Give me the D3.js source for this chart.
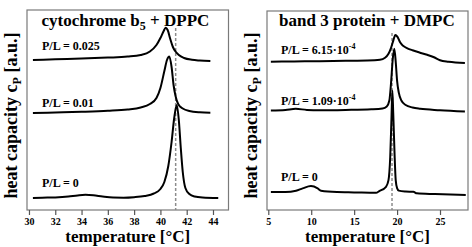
<!DOCTYPE html>
<html>
<head>
<meta charset="utf-8">
<script src="https://cdn.jsdelivr.net/npm/d3@7"></script>
<style>
  body { margin: 0; background: #fff; }
  text { font-family: "Liberation Serif", "Times New Roman", serif; font-weight: bold; fill: #000; }
</style>
</head>
<body>
<div id="chart"></div>
<script>
// ---- data: temperature [°C] and relative heat capacity [a.u.] ----
// cytochrome b5 + DPPC
var dppcT0   = [30.3, 31, 32, 33, 33.7, 34.3, 34.9, 35.6, 36.4, 37.2, 38, 38.8, 39.5, 40, 40.3, 40.6, 40.85, 41.05, 41.24, 41.4, 41.55, 41.7, 41.9, 42.2, 42.6, 43.2, 44.4];
var dppcCp0  = [0, 0.3, 0.6, 1.5, 2.6, 3.2, 2.7, 1.4, 0.4, 0.3, 0.8, 2, 4.5, 9, 16, 32, 56, 80, 93, 78, 50, 26, 10, 4, 1.5, 0.5, 0];
var dppcT1   = [30.3, 32, 34, 36, 37.5, 38.5, 39.2, 39.7, 40, 40.3, 40.5, 40.68, 40.85, 41, 41.15, 41.35, 41.7, 42.2, 43, 43.8];
var dppcCp1  = [0, 0.5, 1.2, 2.2, 3.5, 5.5, 9, 15, 25, 42, 53, 56.5, 46, 28, 17, 9, 4.5, 2, 0.7, 0.3];
var dppcT2   = [30.3, 32, 34, 36, 37.5, 38.5, 39.2, 39.7, 40, 40.25, 40.4, 40.55, 40.75, 40.95, 41.15, 41.4, 41.8, 42.4, 43, 43.8];
var dppcCp2  = [0, 0.7, 1.5, 2.4, 3.4, 5, 8.5, 15, 22, 29, 32.3, 30, 21, 13, 8.5, 5, 2, 0.2, -0.5, -1];
var dppcOffsets = [12, 97, 150];
var dppcLabels  = ['0', '0.01', '0.025'];
var dppcTicks   = [30, 32, 34, 36, 38, 40, 42, 44];
var dppcTm      = 41.16;

// band 3 protein + DMPC
var dmpcT0   = [5.3, 7, 8.23, 9, 9.97, 10.75, 11.14, 13, 15, 17.55, 17.93, 18.71, 19, 19.2, 19.35, 19.45, 19.55, 19.7, 19.84, 20, 20.2, 21, 21.9, 22.3, 24.4, 28];
var dmpcCp0  = [0, 0, 1.3, 3.7, 6, 3.7, 1.3, 0, -0.3, -0.7, 1, 5.3, 12, 35, 75, 102, 80, 40, 12, 4, 1.5, 0.6, 0.3, -1.2, -2, -3];
var dmpcT1   = [5.3, 7, 8.2, 9.5, 11, 14, 17, 18.3, 18.8, 19.1, 19.3, 19.5, 19.68, 19.85, 20, 20.2, 20.5, 21, 21.8, 22.7, 25, 27.9];
var dmpcCp1  = [0, 0.6, 1.7, 0.6, 0.3, 0.6, 1.2, 2, 4, 10, 28, 52, 62, 48, 30, 18, 10, 5.5, 3, 1.7, 0.3, -1];
var dmpcT2   = [5.3, 8, 11, 14, 16.5, 18, 18.6, 19, 19.3, 19.55, 19.8, 20.05, 20.35, 20.7, 21.2, 21.8, 22.6, 23.5, 24.3, 25, 26, 27.9];
var dmpcCp2  = [0, 0.3, 0.6, 1, 1.3, 2, 4, 8, 14, 21, 27, 25, 19.5, 16, 13.5, 11.5, 9.3, 7, 4.5, 1.5, 0, -1.3];
var dmpcOffsets = [18, 100, 149];
var dmpcLabels  = ['0', '1.09·10', '6.15·10'];
var dmpcTicks   = [5, 10, 15, 20, 25];
var dmpcTm      = 19.41;

var W = 472, H = 247;
var svg = d3.select('#chart').append('svg')
  .attr('width', W)
  .attr('height', H);

function drawPanel(p) {
  var x = d3.scaleLinear().domain(p.xDomain).range([p.left, p.right]);
  var y = d3.scaleLinear().domain([0, 200]).range([p.bottom, p.top]);
  var g = svg.append('g');

  // frame
  g.append('rect')
    .attr('x', p.left).attr('y', p.top)
    .attr('width', p.right - p.left).attr('height', p.bottom - p.top)
    .attr('fill', 'none').attr('stroke', '#7a7a7a').attr('stroke-width', 1.2);

  // x axis
  var ax = g.append('g')
    .attr('transform', 'translate(0,' + p.bottom + ')')
    .call(d3.axisBottom(x).tickValues(p.ticks).tickSize(5).tickSizeOuter(0).tickPadding(3));
  ax.select('.domain').remove();
  ax.selectAll('line').attr('stroke', '#555').attr('stroke-width', 1.2);
  ax.selectAll('text')
    .style('font-family', '"Liberation Serif", serif')
    .style('font-weight', 'bold')
    .style('font-size', '10px');

  // transition temperature
  g.append('line')
    .attr('x1', x(p.tm)).attr('x2', x(p.tm))
    .attr('y1', y(p.dashTop)).attr('y2', p.bottom)
    .attr('stroke', '#8c8c8c').attr('stroke-width', 1.5)
    .attr('stroke-dasharray', '3,2');

  // traces
  var line = d3.line()
    .x(function(d) { return x(d[0]); })
    .y(function(d) { return y(d[1]); })
    .curve(d3.curveMonotoneX);

  p.traces.forEach(function(t, i) {
    var pts = t.T.map(function(v, j) { return [v, t.cp[j] + p.offsets[i]]; });
    g.append('path')
      .datum(pts)
      .attr('d', line)
      .attr('fill', 'none')
      .attr('stroke', '#000')
      .attr('stroke-width', 2)
      .attr('stroke-linejoin', 'round');

    var lab = g.append('text')
      .attr('x', p.left + p.labelDx)
      .attr('y', p.labelY[i])
      .style('font-size', '12px')
      .text('P/L = ' + p.labels[i]);
    if (p.sup && i > 0) {
      lab.append('tspan').attr('dy', -5).style('font-size', '8px').text('-4');
    }
  });

  // title
  var title = g.append('text')
    .attr('x', p.titleX).attr('y', 26)
    .attr('text-anchor', 'middle')
    .style('font-size', '17px');
  p.title.forEach(function(part) {
    var ts = title.append('tspan').text(part.t);
    if (part.sub) ts.attr('dy', 4).style('font-size', '12px');
    if (part.back) ts.attr('dy', -4);
  });

  // axis titles
  g.append('text')
    .attr('x', (p.left + p.right) / 2).attr('y', 242)
    .attr('text-anchor', 'middle')
    .style('font-size', '17px')
    .text('temperature [°C]');

  var yt = g.append('text')
    .attr('transform', 'translate(' + (p.left - 10) + ',115.5) rotate(-90)')
    .attr('text-anchor', 'middle')
    .style('font-size', '18px');
  yt.append('tspan').text('heat capacity c');
  yt.append('tspan').attr('dy', 4).style('font-size', '12px').text('P');
  yt.append('tspan').attr('dy', -4).text(' [a.u.]');
}

drawPanel({
  left: 27, right: 228.5, top: 10, bottom: 210,
  xDomain: [29.85, 45.18],
  ticks: dppcTicks, tm: dppcTm, dashTop: 182,
  traces: [{T: dppcT0, cp: dppcCp0}, {T: dppcT1, cp: dppcCp1}, {T: dppcT2, cp: dppcCp2}],
  offsets: dppcOffsets, labels: dppcLabels,
  labelDx: 15, labelY: [186.5, 106.5, 50], sup: false,
  titleX: 125.4,
  title: [{t: 'cytochrome b'}, {t: '5', sub: true}, {t: ' + DPPC', back: true}]
});

drawPanel({
  left: 267, right: 468, top: 11, bottom: 210,
  xDomain: [4.85, 28.26],
  ticks: dmpcTicks, tm: dmpcTm, dashTop: 178,
  traces: [{T: dmpcT0, cp: dmpcCp0}, {T: dmpcT1, cp: dmpcCp1}, {T: dmpcT2, cp: dmpcCp2}],
  offsets: dmpcOffsets, labels: dmpcLabels,
  labelDx: 14, labelY: [180.5, 105, 53.5], sup: true,
  titleX: 366.9,
  title: [{t: 'band 3 protein + DMPC'}]
});
</script>
</body>
</html>
